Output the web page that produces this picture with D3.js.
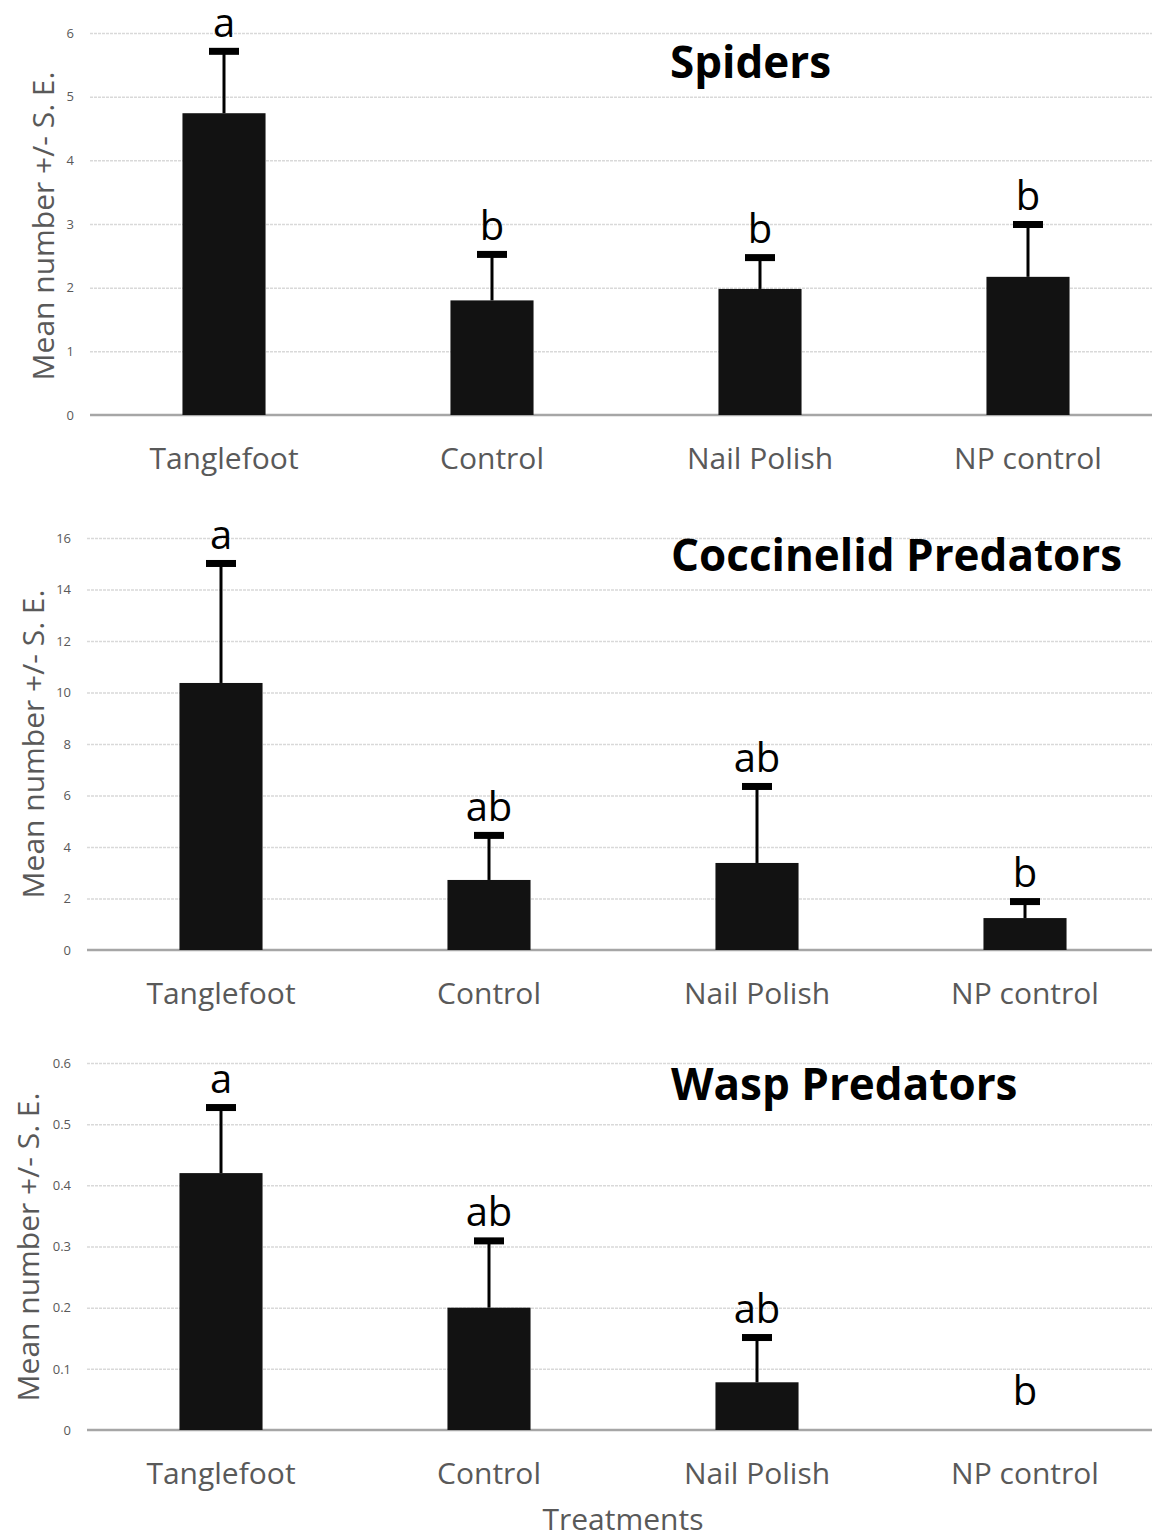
<!DOCTYPE html>
<html>
<head>
<meta charset="utf-8">
<script src="https://cdn.jsdelivr.net/npm/d3@7"></script>
<style>
  body { margin: 0; background: #fff; }
  svg { display: block; font-family: "Open Sans", sans-serif; }
  .grid line { stroke: #d9d9d9; stroke-width: 1.5; stroke-dasharray: 3,1; }
  .grid .domain { display: none; }
  .yticks text { fill: #595959; font-size: 13px; font-family: "Open Sans", sans-serif; }
  .xlabels text { fill: #595959; font-size: 30px; font-family: "Open Sans", sans-serif; }
  .ytitle { fill: #595959; font-size: 30px; }
  .title { font-weight: bold; font-size: 44px; fill: #000; }
  .letter { font-size: 40px; fill: #000; }
</style>
</head>
<body>
<div id="vis"></div>
<script>
// Three stacked bar charts: mean number +/- S.E. per treatment

/* *************************** Data ***************************** */
var treatments = ['Tanglefoot', 'Control', 'Nail Polish', 'NP control'];

var spiderMean = [4.74, 1.80, 1.98, 2.17];
var spiderSE = [0.98, 0.73, 0.50, 0.83];
var spiderLetters = ['a', 'b', 'b', 'b'];
var spiderTicks = [0, 1, 2, 3, 4, 5, 6];

var coccMean = [10.37, 2.72, 3.38, 1.24];
var coccSE = [4.66, 1.75, 2.99, 0.66];
var coccLetters = ['a', 'ab', 'ab', 'b'];
var coccTicks = [0, 2, 4, 6, 8, 10, 12, 14, 16];

var waspMean = [0.42, 0.20, 0.078, 0];
var waspSE = [0.108, 0.11, 0.074, 0];
var waspLetters = ['a', 'ab', 'ab', 'b'];
var waspTicks = [0, 0.1, 0.2, 0.3, 0.4, 0.5, 0.6];

/* *************************** Settings ***************************** */
var width = 1152;
var height = 1540;

var svg = d3.select('#vis')
    .append('svg')
    .attr('width', width)
    .attr('height', height);

// panel geometry (pixel layout of each chart)
var panels = [
    { title: 'Spiders', mean: spiderMean, se: spiderSE, letters: spiderLetters, ticks: spiderTicks,
      left: 90, right: 1162, top: 33, bottom: 415, titleX: 670, titleY: 78, yTitleX: 42, yTitleY: 226, xLabelY: 470 },
    { title: 'Coccinelid Predators', mean: coccMean, se: coccSE, letters: coccLetters, ticks: coccTicks,
      left: 87, right: 1159, top: 538, bottom: 950, titleX: 671, titleY: 571, yTitleX: 32, yTitleY: 744, xLabelY: 1005 },
    { title: 'Wasp Predators', mean: waspMean, se: waspSE, letters: waspLetters, ticks: waspTicks,
      left: 87, right: 1159, top: 1063, bottom: 1430, titleX: 671, titleY: 1100, yTitleX: 27, yTitleY: 1247, xLabelY: 1485 }
];

/* *************************** Draw function ***************************** */
var drawPanel = function(p) {
    var g = svg.append('g');

    var data = treatments.map(function(t, i) {
        return { name: t, mean: p.mean[i], se: p.se[i], letter: p.letters[i] };
    });

    var xScale = d3.scaleBand()
        .domain(treatments)
        .range([p.left, p.right])
        .paddingInner(0.69)
        .paddingOuter(0.345);

    var yScale = d3.scaleLinear()
        .domain([0, d3.max(p.ticks)])
        .range([p.bottom, p.top]);

    // gridlines
    g.append('g')
        .attr('class', 'grid')
        .attr('transform', 'translate(' + p.left + ',0)')
        .call(d3.axisLeft(yScale).tickValues(p.ticks.slice(1)).tickSize(-(width - p.left)).tickFormat(''));

    // tick labels
    var yAxis = g.append('g')
        .attr('class', 'yticks')
        .attr('transform', 'translate(' + (p.left - 16) + ',0)')
        .call(d3.axisLeft(yScale).tickValues(p.ticks).tickSize(0).tickPadding(0).tickFormat(function(d) { return String(d); }));
    yAxis.select('.domain').remove();

    // baseline
    g.append('line')
        .attr('x1', p.left).attr('x2', width)
        .attr('y1', yScale(0)).attr('y2', yScale(0))
        .attr('stroke', '#a6a6a6')
        .attr('stroke-width', 2.5);

    // bars
    g.selectAll('rect.bar')
        .data(data)
        .enter().append('rect')
        .attr('class', 'bar')
        .attr('x', function(d) { return xScale(d.name); })
        .attr('width', xScale.bandwidth())
        .attr('y', function(d) { return yScale(d.mean); })
        .attr('height', function(d) { return yScale(0) - yScale(d.mean); })
        .attr('fill', '#121212');

    // error bars (upper only)
    var err = data.filter(function(d) { return d.se > 0; });
    g.selectAll('line.err')
        .data(err)
        .enter().append('line')
        .attr('class', 'err')
        .attr('x1', function(d) { return xScale(d.name) + xScale.bandwidth() / 2; })
        .attr('x2', function(d) { return xScale(d.name) + xScale.bandwidth() / 2; })
        .attr('y1', function(d) { return yScale(d.mean); })
        .attr('y2', function(d) { return yScale(d.mean + d.se); })
        .attr('stroke', '#000')
        .attr('stroke-width', 3);

    g.selectAll('rect.cap')
        .data(err)
        .enter().append('rect')
        .attr('class', 'cap')
        .attr('x', function(d) { return xScale(d.name) + xScale.bandwidth() / 2 - 15; })
        .attr('width', 30)
        .attr('y', function(d) { return yScale(d.mean + d.se) - 3; })
        .attr('height', 7)
        .attr('fill', '#000');

    // significance letters
    g.selectAll('text.letter')
        .data(data)
        .enter().append('text')
        .attr('class', 'letter')
        .attr('text-anchor', 'middle')
        .attr('x', function(d) { return xScale(d.name) + xScale.bandwidth() / 2; })
        .attr('y', function(d) { return yScale(d.mean + d.se) - (d.se > 0 ? 14 : 25); })
        .text(function(d) { return d.letter; });

    // category labels
    var xAxis = g.append('g')
        .attr('class', 'xlabels')
        .attr('transform', 'translate(0,' + (p.xLabelY - 22) + ')')
        .call(d3.axisBottom(xScale).tickSize(0).tickPadding(0));
    xAxis.select('.domain').remove();

    // titles
    g.append('text')
        .attr('class', 'title')
        .attr('x', p.titleX)
        .attr('y', p.titleY)
        .text(p.title);

    g.append('text')
        .attr('class', 'ytitle')
        .attr('text-anchor', 'middle')
        .attr('dominant-baseline', 'central')
        .attr('transform', 'translate(' + p.yTitleX + ',' + p.yTitleY + ') rotate(-90)')
        .text('Mean number +/- S. E.');
};

panels.forEach(drawPanel);

svg.append('text')
    .attr('x', 623)
    .attr('y', 1530)
    .attr('text-anchor', 'middle')
    .attr('fill', '#595959')
    .style('font-size', '30px')
    .text('Treatments');
</script>
</body>
</html>
